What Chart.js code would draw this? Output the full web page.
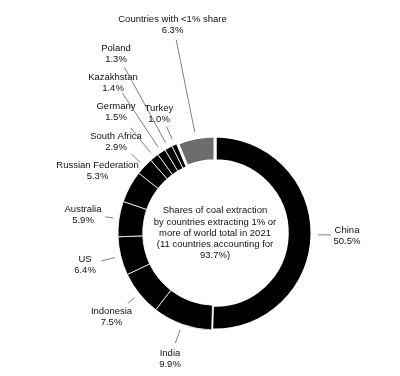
<!DOCTYPE html>
<html>
<head>
<meta charset="utf-8">
<script src="https://cdn.jsdelivr.net/npm/chart.js@4/dist/chart.umd.min.js"></script>
<style>
  html, body { margin: 0; padding: 0; background: #ffffff; }
  #wrap { width: 400px; height: 376px; }
</style>
</head>
<body>
<div id="wrap"><canvas id="c" width="400" height="376"></canvas></div>
<script>
// ---- Data ----
const categories = ['China', 'India', 'Indonesia', 'US', 'Australia', 'Russian Federation',
  'South Africa', 'Germany', 'Kazakhstan', 'Poland', 'Turkey', 'Countries with <1% share'];
const shares = [50.5, 9.9, 7.5, 6.4, 5.9, 5.3, 2.9, 1.5, 1.4, 1.3, 1.0, 6.3];
const centerTitle = ['Shares of coal extraction', 'by countries extracting 1% or',
  'more of world total in 2021', '(11 countries accounting for', '93.7%)'];

// ---- Layout / style (not data) ----
const sliceColors = ['#000','#000','#000','#000','#000','#000','#000','#000','#000','#000','#000','#6d6d6d'];
const sliceBorders = [3, 0.8, 0.8, 0.8, 0.8, 0.8, 0.8, 0.8, 0.8, 0.8, 0.8, 3];
// label centre offsets from the doughnut centre (first line)
const labelOffsets = [[132,-3],[-45,120],[-103.5,78],[-130,26],[-132,-24],[-117.5,-68],
  [-99,-97],[-99,-126.5],[-102,-155.7],[-99,-184.7],[-56,-125],[-42.5,-214]];
// leader line outer end radius (0 = no leader)
const leaderEnd = [116, 117, 112, 117, 111, 0, 115, 135, 168, 189, 117, 197];
const FONT = '9.5px "Liberation Sans", Arial, Helvetica, sans-serif';
const TEXT = '#111111';
const LINE_H = 11;

const labelPlugin = {
  id: 'labels',
  afterDatasetsDraw(chart) {
    const ctx = chart.ctx;
    const meta = chart.getDatasetMeta(0);
    ctx.save();
    ctx.font = FONT;
    ctx.fillStyle = TEXT;
    ctx.textAlign = 'center';
    ctx.textBaseline = 'middle';
    let cx = 0, cy = 0;
    meta.data.forEach((arc, i) => {
      const p = arc.getProps(['x','y','startAngle','endAngle','outerRadius'], true);
      cx = p.x; cy = p.y;
      const mid = (p.startAngle + p.endAngle) / 2;
      if (leaderEnd[i] > 0) {
        const r0 = p.outerRadius + 6;
        const r1 = leaderEnd[i];
        ctx.beginPath();
        ctx.strokeStyle = '#808080';
        ctx.lineWidth = 1;
        ctx.moveTo(p.x + Math.cos(mid) * r0, p.y + Math.sin(mid) * r0);
        ctx.lineTo(p.x + Math.cos(mid) * r1, p.y + Math.sin(mid) * r1);
        ctx.stroke();
      }
      const lx = p.x + labelOffsets[i][0];
      const ly = p.y + labelOffsets[i][1];
      ctx.fillText(categories[i], lx, ly);
      ctx.fillText(shares[i].toFixed(1) + '%', lx, ly + LINE_H);
    });
    const top = cy - (centerTitle.length - 1) * 11.1 / 2;
    centerTitle.forEach((t, k) => ctx.fillText(t, cx, top + k * 11.1));
    ctx.restore();
  }
};

new Chart(document.getElementById('c'), {
  type: 'doughnut',
  data: {
    labels: categories,
    datasets: [{
      data: shares,
      backgroundColor: sliceColors,
      borderColor: '#ffffff',
      borderWidth: sliceBorders,
      hoverOffset: 0
    }]
  },
  options: {
    responsive: false,
    animation: false,
    devicePixelRatio: 1,
    cutout: '74.5%',
    layout: { padding: { left: 116.5, top: 134.5, right: 86.5, bottom: 44.5 } },
    plugins: { legend: { display: false }, tooltip: { enabled: false } }
  },
  plugins: [labelPlugin]
});
</script>
</body>
</html>
